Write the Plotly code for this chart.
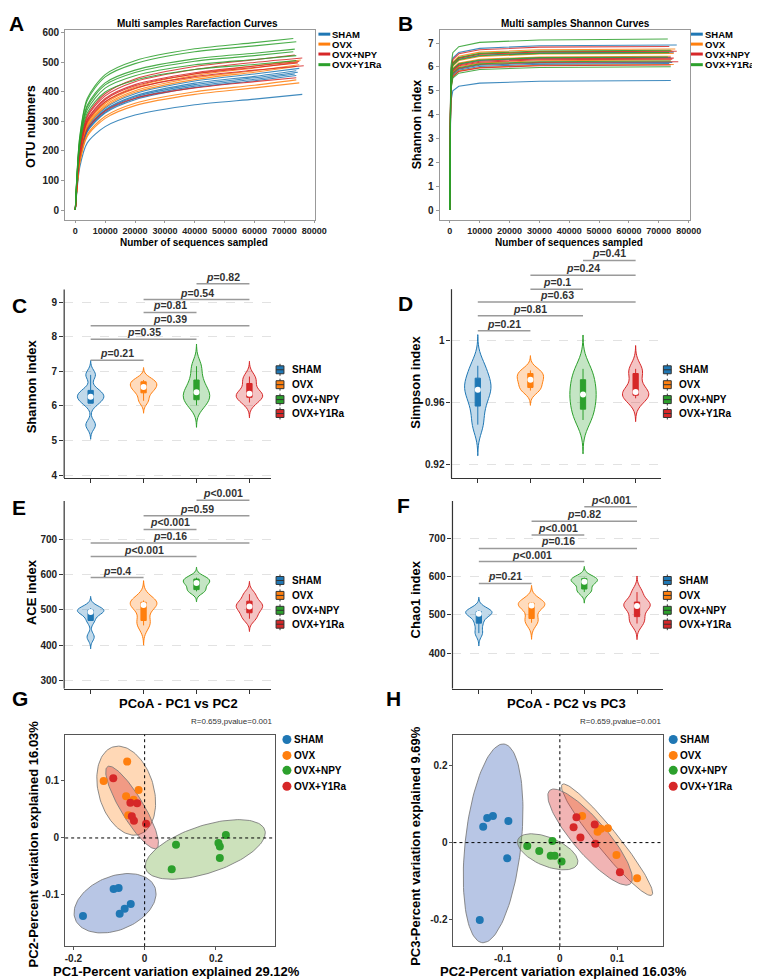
import numpy as np
import plotly.graph_objects as go

W, H = 760, 979
FONT = "Liberation Sans, Arial, sans-serif"

groups = ["SHAM", "OVX", "OVX+NPY", "OVX+Y1Ra"]
curve_colors = ["#1f77b4", "#ff7f0e", "#d62728", "#2ca02c"]   # panels A, B
group_colors = ["#1f77b4", "#ff7f0e", "#2ca02c", "#d62728"]   # panels C-H

# ---------------- A: rarefaction curves (OTU numbers) ----------------
rare_depths = [0, 500, 1500, 4000, 10000, 20000, 40000, 60000]
end_depth = [
    [76000, 75000, 74000, 74500, 73500, 74000],
    [75500, 74500, 75000, 74000, 74000, 75000],
    [73500, 76000, 75000, 74500, 76500, 74000],
    [73000, 74000, 73500, 73000, 74000, 74000],
]
otu_sham = [
    [0, 59, 145, 227, 282, 321, 356, 375, 391],
    [0, 72, 177, 278, 345, 393, 436, 460, 479],
    [0, 71, 174, 273, 339, 386, 429, 452, 471],
    [0, 70, 172, 270, 336, 382, 424, 447, 466],
    [0, 69, 170, 267, 331, 377, 419, 442, 460],
    [0, 68, 168, 264, 328, 373, 414, 437, 455],
]
otu_ovx = [
    [0, 76, 188, 294, 365, 416, 461, 487, 507],
    [0, 75, 185, 290, 360, 410, 455, 480, 500],
    [0, 74, 182, 285, 354, 403, 447, 471, 491],
    [0, 73, 179, 281, 349, 398, 441, 466, 485],
    [0, 66, 163, 255, 317, 361, 400, 422, 440],
    [0, 65, 159, 249, 310, 353, 391, 413, 430],
]
otu_npy = [
    [0, 89, 210, 320, 393, 443, 485, 508, 524],
    [0, 87, 206, 314, 386, 434, 475, 499, 514],
    [0, 85, 201, 306, 377, 424, 464, 487, 502],
    [0, 84, 199, 303, 373, 420, 460, 482, 497],
    [0, 83, 195, 298, 366, 412, 451, 473, 488],
    [0, 76, 179, 273, 335, 378, 413, 434, 447],
]
otu_y1ra = [
    [0, 110, 249, 377, 458, 505, 545, 566, 580],
    [0, 108, 245, 370, 450, 495, 535, 555, 569],
    [0, 103, 234, 354, 430, 473, 511, 530, 544],
    [0, 102, 230, 348, 423, 465, 503, 522, 535],
    [0, 99, 224, 339, 412, 454, 491, 509, 522],
    [0, 96, 217, 328, 399, 439, 475, 492, 505],
]

# ---------------- B: Shannon curves ----------------
sh_depths = [0, 300, 1000, 3000, 10000, 30000]
shc_sham = [
    [0, 5.74, 6.37, 6.61, 6.78, 6.89, 6.92],
    [0, 5.49, 6.09, 6.32, 6.49, 6.59, 6.62],
    [0, 5.31, 5.89, 6.11, 6.27, 6.37, 6.40],
    [0, 5.14, 5.69, 5.91, 6.07, 6.16, 6.19],
    [0, 5.10, 5.65, 5.86, 6.02, 6.11, 6.14],
    [0, 4.51, 5.00, 5.19, 5.32, 5.40, 5.43],
]
shc_ovx = [
    [0, 5.60, 6.21, 6.45, 6.62, 6.72, 6.75],
    [0, 5.54, 6.15, 6.38, 6.55, 6.65, 6.68],
    [0, 5.45, 6.04, 6.27, 6.44, 6.54, 6.57],
    [0, 5.35, 5.93, 6.16, 6.32, 6.42, 6.45],
    [0, 5.22, 5.79, 6.01, 6.16, 6.26, 6.29],
    [0, 5.06, 5.61, 5.83, 5.98, 6.07, 6.10],
]
shc_npy = [
    [0, 5.69, 6.31, 6.55, 6.72, 6.83, 6.86],
    [0, 5.53, 6.13, 6.36, 6.53, 6.63, 6.66],
    [0, 5.29, 5.86, 6.08, 6.24, 6.34, 6.37],
    [0, 5.25, 5.82, 6.05, 6.20, 6.30, 6.33],
    [0, 5.16, 5.72, 5.94, 6.10, 6.19, 6.22],
    [0, 5.05, 5.59, 5.81, 5.96, 6.05, 6.08],
]
shc_y1ra = [
    [0, 5.95, 6.60, 6.85, 7.03, 7.13, 7.17],
    [0, 5.56, 6.16, 6.40, 6.57, 6.67, 6.70],
    [0, 5.48, 6.07, 6.30, 6.47, 6.57, 6.60],
    [0, 5.33, 5.91, 6.13, 6.29, 6.39, 6.42],
    [0, 5.19, 5.75, 5.97, 6.13, 6.22, 6.25],
    [0, 4.99, 5.53, 5.74, 5.89, 5.98, 6.01],
]

# ---------------- C-F: alpha diversity (6 samples per group) ----------------
shannon = [
    [6.90, 6.45, 6.30, 6.24, 6.08, 5.45],
    [6.75, 6.70, 6.58, 6.52, 6.38, 6.15],
    [7.15, 6.75, 6.45, 6.35, 6.18, 6.02],
    [6.85, 6.65, 6.38, 6.33, 6.25, 6.10],
]
simpson = [
    [0.984, 0.976, 0.970, 0.967, 0.958, 0.946],
    [0.981, 0.979, 0.976, 0.974, 0.970, 0.968],
    [0.982, 0.975, 0.968, 0.963, 0.956, 0.949],
    [0.982, 0.979, 0.968, 0.966, 0.965, 0.963],
]
ace = [
    [505, 500, 497, 492, 470, 423],
    [527, 522, 516, 512, 470, 456],
    [592, 588, 578, 575, 558, 553],
    [545, 525, 512, 508, 492, 475],
]
chao1 = [
    [512, 508, 505, 500, 478, 452],
    [533, 530, 526, 522, 490, 479],
    [597, 594, 588, 584, 567, 559],
    [559, 533, 525, 520, 495, 477],
]
pairs = [(0, 1), (0, 2), (0, 3), (1, 2), (1, 3), (2, 3)]
shannon_p = ["=0.21", "=0.35", "=0.39", "=0.81", "=0.54", "=0.82"]
simpson_p = ["=0.21", "=0.81", "=0.63", "=0.1", "=0.24", "=0.41"]
ace_p = ["=0.4", "&lt;0.001", "=0.16", "&lt;0.001", "=0.59", "&lt;0.001"]
chao1_p = ["=0.21", "&lt;0.001", "=0.16", "&lt;0.001", "=0.82", "&lt;0.001"]

# ---------------- G, H: PCoA ----------------
g_pc1 = [
    [-0.173, -0.087, -0.073, -0.056, -0.039, -0.070],
    [-0.049, -0.115, -0.017, -0.052, -0.031, -0.046],
    [0.228, 0.088, 0.207, 0.211, 0.211, 0.076],
    [-0.088, -0.040, -0.021, -0.036, -0.030, 0.004],
]
g_pc2 = [
    [-0.137, -0.0895, -0.088, -0.124, -0.116, -0.133],
    [0.134, 0.100, 0.084, 0.073, 0.067, 0.040],
    [0.005, -0.012, -0.009, -0.015, -0.035, -0.055],
    [0.105, 0.062, 0.061, 0.038, 0.030, 0.025],
]
h_pc2 = [
    [-0.134, -0.127, -0.117, -0.090, -0.092, -0.140],
    [0.039, 0.066, 0.072, 0.084, 0.099, 0.135],
    [-0.057, -0.036, -0.013, -0.016, -0.009, 0.003],
    [0.029, 0.024, 0.061, 0.036, 0.062, 0.105],
]
h_pc3 = [
    [0.041, 0.064, 0.069, 0.056, -0.041, -0.201],
    [0.069, 0.028, 0.036, 0.037, -0.032, -0.093],
    [-0.009, -0.022, 0.004, -0.034, -0.034, -0.049],
    [0.066, 0.040, 0.047, 0.013, -0.003, -0.077],
]
ellipse_fill = ["rgba(63,100,185,0.37)", "rgba(255,127,14,0.30)",
                "rgba(110,170,60,0.35)", "rgba(214,39,40,0.35)"]

# ======================================================================
def fx(px):
    return px / W

def fy(py):
    return 1 - py / H

def dom_x(a, b):
    return [a / W, b / W]

def dom_y(top, bottom):
    return [1 - bottom / H, 1 - top / H]

def rgba(hexc, a):
    h = hexc.lstrip("#")
    r, g, b = int(h[0:2], 16), int(h[2:4], 16), int(h[4:6], 16)
    return f"rgba({r},{g},{b},{a})"

fig = go.Figure()
ann = []
shapes = []

def text(x, y, s, size, xanchor="center", yanchor="middle", angle=0,
         weight="bold", color="black"):
    ann.append(dict(x=fx(x), y=fy(y), xref="paper", yref="paper", text=s,
                    showarrow=False, textangle=angle, xanchor=xanchor,
                    yanchor=yanchor, borderpad=0,
                    font=dict(family=FONT, size=size, color=color, weight=weight)))

# ---- A & B curves
def add_curves(curve_groups, depths, xa, ya, shape):
    for g in range(4):
        for k, vals in enumerate(curve_groups[g]):
            xs = list(depths) + [end_depth[g][k]]
            line = dict(color=curve_colors[g], width=1.1)
            if shape == "spline":
                line.update(shape="spline", smoothing=0.8)
            fig.add_trace(go.Scatter(
                x=xs, y=vals, mode="lines", xaxis=xa, yaxis=ya, line=line,
                opacity=0.85, showlegend=False, hoverinfo="skip"))

add_curves([otu_sham, otu_ovx, otu_npy, otu_y1ra], rare_depths, "x", "y", "spline")
add_curves([shc_sham, shc_ovx, shc_npy, shc_y1ra], sh_depths, "x2", "y2", "linear")

# ---- C-F violins
def add_violins(data, n):
    xa, ya = f"x{n}", f"y{n}"
    for g in range(4):
        v = np.array(data[g], float)
        sd = v.std(ddof=1)
        q1, q3 = np.percentile(v, [25, 75])
        bw = 0.9 * min(sd, (q3 - q1) / 1.34) * len(v) ** -0.2
        col = group_colors[g]
        fig.add_trace(go.Violin(
            x=[g] * len(v), y=v, xaxis=xa, yaxis=ya, width=0.5,
            scalemode="width", bandwidth=bw, spanmode="manual",
            span=[v.min() - 3 * bw, v.max() + 3 * bw],
            fillcolor=rgba(col, 0.28), line=dict(color=col, width=1),
            points=False,
            box=dict(visible=True, width=0.2, fillcolor=col,
                     line=dict(color=col, width=1)),
            meanline=dict(visible=False), showlegend=False, hoverinfo="skip"))
        fig.add_trace(go.Scatter(
            x=[g], y=[np.median(v)], mode="markers", xaxis=xa, yaxis=ya,
            marker=dict(color="white", size=6), showlegend=False,
            hoverinfo="skip"))

def add_brackets(n, heights, labels):
    for (i, j), h, lab in zip(pairs, heights, labels):
        shapes.append(dict(type="line", xref=f"x{n}", yref=f"y{n}", x0=i, x1=j,
                           y0=h, y1=h, line=dict(color="#9a9a9a", width=1.5)))
        ann.append(dict(x=(i + j) / 2, y=h, xref=f"x{n}", yref=f"y{n}",
                        text="<i>p</i>" + lab, showarrow=False,
                        xanchor="center", yanchor="bottom", yshift=-1,
                        font=dict(family=FONT, size=10.5, color="#333",
                                  weight="bold")))

add_violins(shannon, 3)
add_violins(simpson, 4)
add_violins(ace, 5)
add_violins(chao1, 6)
add_brackets(3, [7.325, 7.928, 8.322, 8.704, 9.078, 9.537], shannon_p)
add_brackets(4, [1.0066, 1.0162, 1.0252, 1.0334, 1.0424, 1.0520], simpson_p)
add_brackets(5, [592.4, 651.9, 690.7, 729.2, 768.0, 812.4], ace_p)
add_brackets(6, [581.5, 638.5, 673.0, 707.8, 744.1, 781.9], chao1_p)

# y axis lines (stop below the brackets)
for n, lo, top in [(3, 3.914, 9.365), (4, 0.9115, 1.0334),
                   (5, 275.4, 810.4), (6, 306.6, 796.7)]:
    shapes.append(dict(type="line", xref=f"x{n} domain", yref=f"y{n}",
                       x0=0, x1=0, y0=lo, y1=top,
                       line=dict(color="#333", width=1.2)))

# ---- G, H PCoA
def ellipse(xs, ys, k=np.sqrt(5.991), n=120):
    xs, ys = np.asarray(xs), np.asarray(ys)
    cov = np.cov(xs, ys)
    vals, vecs = np.linalg.eigh(cov)
    t = np.linspace(0, 2 * np.pi, n)
    circ = np.stack([np.cos(t), np.sin(t)])
    pts = vecs @ (np.sqrt(np.maximum(vals, 0))[:, None] * circ) * k
    return xs.mean() + pts[0], ys.mean() + pts[1]

def add_pcoa(xd, yd, n):
    xa, ya = f"x{n}", f"y{n}"
    for g in range(4):
        ex, ey = ellipse(xd[g], yd[g])
        fig.add_trace(go.Scatter(x=ex, y=ey, mode="lines", fill="toself",
                                 fillcolor=ellipse_fill[g],
                                 line=dict(color="rgba(120,120,120,0.85)", width=1),
                                 xaxis=xa, yaxis=ya, showlegend=False,
                                 hoverinfo="skip"))
    for g in range(4):
        fig.add_trace(go.Scatter(x=xd[g], y=yd[g], mode="markers",
                                 marker=dict(color=group_colors[g], size=8),
                                 xaxis=xa, yaxis=ya, showlegend=False,
                                 hoverinfo="skip"))
    shapes.append(dict(type="line", xref=xa, yref=f"y{n} domain", x0=0, x1=0,
                       y0=0, y1=1, line=dict(color="black", width=1, dash="dot")))
    shapes.append(dict(type="line", xref=f"x{n} domain", yref=ya, x0=0, x1=1,
                       y0=0, y1=0, line=dict(color="black", width=1, dash="dot")))

add_pcoa(g_pc1, g_pc2, 7)
add_pcoa(h_pc2, h_pc3, 8)

# ---- manual legends
ab_leg_y = [23.3, 33.3, 43.3, 54.0]
for lx in [315, 693]:
    for i, g in enumerate(groups):
        shapes.append(dict(type="line", xref="paper", yref="paper",
                           x0=fx(lx), x1=fx(lx + 12), y0=fy(ab_leg_y[i]),
                           y1=fy(ab_leg_y[i]),
                           line=dict(color=curve_colors[i], width=3)))
        text(lx + 13, ab_leg_y[i], g, 9.5, xanchor="left")

box_leg = [(272, [361, 376, 391, 405]), (665, [361, 376, 391, 405]),
           (272, [573, 588, 603, 617]), (665, [573, 588, 603, 617])]
for lx, ys in box_leg:
    for i, g in enumerate(groups):
        y = ys[i]
        shapes.append(dict(type="line", xref="paper", yref="paper",
                           x0=fx(lx + 4), x1=fx(lx + 4), y0=fy(y - 6), y1=fy(y + 6),
                           line=dict(color="#333", width=1)))
        shapes.append(dict(type="rect", xref="paper", yref="paper",
                           x0=fx(lx), x1=fx(lx + 8), y0=fy(y - 4), y1=fy(y + 4),
                           fillcolor=group_colors[i], line=dict(color="#333", width=1)))
        shapes.append(dict(type="line", xref="paper", yref="paper",
                           x0=fx(lx), x1=fx(lx + 8), y0=fy(y), y1=fy(y),
                           line=dict(color="#333", width=1)))
        text(lx + 15, y, g, 10, xanchor="left")

pc_leg_y = [733, 749, 764, 780]
for cx in [283, 675]:
    for i, g in enumerate(groups):
        shapes.append(dict(type="circle", xref="paper", yref="paper",
                           xsizemode="pixel", ysizemode="pixel",
                           xanchor=fx(cx), yanchor=fy(pc_leg_y[i]),
                           x0=-4.5, x1=4.5, y0=-4.5, y1=4.5,
                           fillcolor=group_colors[i], line=dict(width=0)))
        text(cx + 6, pc_leg_y[i], g, 10, xanchor="left")

# ---- text
for L, x, y in [("A", 9, 13), ("B", 403, 13), ("C", 12, 296), ("D", 403, 294),
                ("E", 11, 500), ("F", 401, 498), ("G", 12, 692), ("H", 391, 692)]:
    text(x, y, L, 21)

text(192, 12.5, "Multi samples Rarefaction Curves", 10)
text(576, 12.5, "Multi samples Shannon Curves", 10)
text(24, 116, "OTU nubmers", 12.5, angle=-90)
text(415, 114, "Shannon index", 12.5, angle=-90)
text(189, 233, "Number of sequences sampled", 10)
text(569, 233, "Number of sequences sampled", 10)
text(24, 378, "Shannon index", 13, angle=-90)
text(414, 374, "Simpson index", 13, angle=-90)
text(24, 585, "ACE index", 13, angle=-90)
text(413, 592, "Chao1 index", 13, angle=-90)
text(173, 697, "PCoA - PC1 vs PC2", 13)
text(567, 697, "PCoA - PC2 vs PC3", 13)
text(270, 715, "R=0.659,pvalue=0.001", 8, xanchor="right", weight="normal", color="#333")
text(665, 715, "R=0.659,pvalue=0.001", 8, xanchor="right", weight="normal", color="#333")
text(26, 838, "PC2-Percent variation explained 16.03%", 13, angle=-90)
text(171, 966, "PC1-Percent variation explained 29.12%", 13)
text(414, 840, "PC3-Percent variation explained 9.69%", 13, angle=-90)
text(564, 966, "PC2-Percent variation explained 16.03%", 13)

# ---- axes
tf = dict(family=FONT, size=10, color="#222", weight="bold")

def box_axis(domain, rng, tickvals, anchor, ticktext=None, lc="#999"):
    d = dict(domain=domain, range=rng, anchor=anchor, tickvals=tickvals,
             showline=True, mirror=True, linecolor=lc, linewidth=1,
             ticks="outside", ticklen=3, tickcolor=lc, showgrid=False,
             zeroline=False, tickfont=tf, fixedrange=True)
    if ticktext is not None:
        d["ticktext"] = ticktext
    return d

def cat_x(domain, rng, anchor):
    return dict(domain=domain, range=rng, anchor=anchor, tickvals=[0, 1, 2, 3],
                showticklabels=False, showline=True, linecolor="#333",
                linewidth=1.2, ticks="outside", ticklen=4, tickcolor="#333",
                showgrid=False, zeroline=False)

def val_y(domain, rng, anchor, tickvals, ticktext=None):
    d = dict(domain=domain, range=rng, anchor=anchor, tickvals=tickvals,
             showline=False, ticks="outside", ticklen=4, tickcolor="#333",
             showgrid=True, gridcolor="#e2e2e2", griddash="dash", gridwidth=1,
             zeroline=False, tickfont=tf)
    if ticktext is not None:
        d["ticktext"] = ticktext
    return d

xa_ticks = list(range(0, 80001, 10000))
layout = dict(
    width=W, height=H, margin=dict(l=0, r=0, t=0, b=0),
    paper_bgcolor="white", plot_bgcolor="white", showlegend=False,
    violinmode="overlay", font=dict(family=FONT),
    xaxis=box_axis(dom_x(58, 312), [-3400, 80430], xa_ticks, "y"),
    yaxis=box_axis(dom_y(19, 210), [-32.6, 609], list(range(0, 601, 100)), "x"),
    xaxis2=box_axis(dom_x(438, 692), [-3400, 80430], xa_ticks, "y2"),
    yaxis2=box_axis(dom_y(19, 210), [-0.404, 7.554], list(range(0, 8)), "x2"),
    xaxis3=cat_x(dom_x(57, 267), [-0.5, 3.41], "y3"),
    yaxis3=val_y(dom_y(262, 470), [3.914, 9.891], "x3", [4, 5, 6, 7, 8, 9]),
    xaxis4=cat_x(dom_x(450, 663), [-0.5, 3.49], "y4"),
    yaxis4=val_y(dom_y(240, 470), [0.9115, 1.0590], "x4", [0.92, 0.96, 1.0],
                 ["0.92", "0.96", "1"]),
    xaxis5=cat_x(dom_x(57, 267), [-0.5, 3.41], "y5"),
    yaxis5=val_y(dom_y(482, 682), [275.4, 841.5], "x5", [300, 400, 500, 600, 700]),
    xaxis6=cat_x(dom_x(451, 665), [-0.5, 3.5], "y6"),
    yaxis6=val_y(dom_y(488, 682), [306.6, 809.7], "x6", [400, 500, 600, 700]),
    xaxis7=box_axis(dom_x(58, 271), [-0.223, 0.366], [-0.2, 0, 0.2], "y7",
                    ["-0.2", "0", "0.2"], lc="#555"),
    yaxis7=box_axis(dom_y(728, 941), [-0.190, 0.1815], [-0.1, 0, 0.1], "x7",
                    ["-0.1", "0", "0.1"], lc="#555"),
    xaxis8=box_axis(dom_x(452, 665), [-0.186, 0.181], [-0.1, 0, 0.1], "y8",
                    ["-0.1", "0", "0.1"], lc="#555"),
    yaxis8=box_axis(dom_y(728, 941), [-0.2695, 0.281], [-0.2, 0, 0.2], "x8",
                    ["-0.2", "0", "0.2"], lc="#555"),
    annotations=ann,
    shapes=shapes,
)
for k in ["xaxis", "xaxis2"]:
    layout[k]["tickformat"] = "d"
    layout[k]["tickfont"] = dict(tf, size=9)
    layout[k]["ticklen"] = 2
fig.update_layout(**layout)
fig.write_html("out.html")
